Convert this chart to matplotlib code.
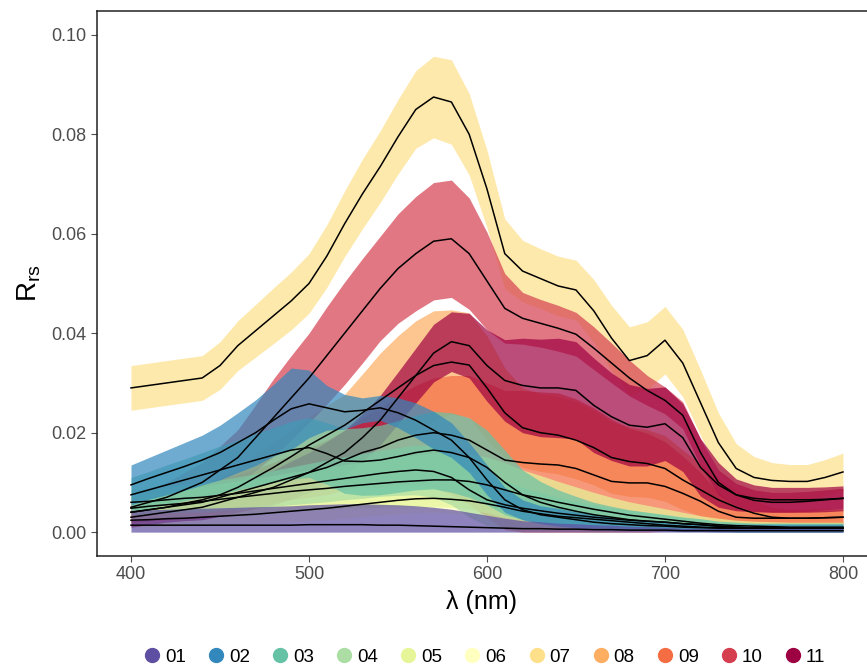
import numpy as np
import matplotlib
matplotlib.use("Agg")
import matplotlib.pyplot as plt
from matplotlib.lines import Line2D

plt.rcParams['font.family'] = ['Liberation Sans', 'DejaVu Sans']

# wavelengths, every 10 nm
wl = list(range(400, 801, 10))

classes = ['01', '02', '03', '04', '05', '06', '07', '08', '09', '10', '11']
colors = ['#5E4FA2', '#3288BD', '#66C2A5', '#ABDDA4', '#E6F598', '#FFFFBF',
          '#FEE08B', '#FDAE61', '#F46D43', '#D53E4F', '#9E0142']

# mean and sd of Rrs for each class (rows: 400-490, 500-590, 600-690, 700-790, 800)
mean01 = [0.0014, 0.0014, 0.0014, 0.0014, 0.0014, 0.0014, 0.0014, 0.0014, 0.0014, 0.0014,
          0.0015, 0.0015, 0.0015, 0.0015, 0.0014, 0.0014, 0.0013, 0.0012, 0.0011, 0.0010,
          0.0009, 0.0008, 0.0007, 0.0007, 0.0006, 0.0006, 0.0005, 0.0005, 0.0004, 0.0004,
          0.0004, 0.0003, 0.0003, 0.0003, 0.0003, 0.0003, 0.0003, 0.0003, 0.0003, 0.0003,
          0.0003]
sd01 = [0.0030, 0.0031, 0.0032, 0.0033, 0.0034, 0.0035, 0.0036, 0.0037, 0.0038, 0.0039,
        0.0040, 0.0041, 0.0042, 0.0042, 0.0042, 0.0041, 0.0040, 0.0038, 0.0035, 0.0030,
        0.0025, 0.0020, 0.0016, 0.0014, 0.0012, 0.0011, 0.0010, 0.0009, 0.0008, 0.0007,
        0.0006, 0.0005, 0.0005, 0.0005, 0.0005, 0.0005, 0.0005, 0.0005, 0.0005, 0.0005,
        0.0005]

mean02 = [0.0095, 0.0108, 0.0120, 0.0132, 0.0145, 0.0160, 0.0180, 0.0200, 0.0225, 0.0248,
          0.0258, 0.0250, 0.0242, 0.0245, 0.0250, 0.0240, 0.0225, 0.0205, 0.0185, 0.0150,
          0.0105, 0.0065, 0.0045, 0.0035, 0.0030, 0.0025, 0.0020, 0.0017, 0.0015, 0.0013,
          0.0012, 0.0010, 0.0009, 0.0008, 0.0008, 0.0008, 0.0008, 0.0008, 0.0008, 0.0008,
          0.0008]
sd02 = [0.0040, 0.0042, 0.0045, 0.0048, 0.0050, 0.0055, 0.0060, 0.0066, 0.0072, 0.0082,
        0.0068, 0.0045, 0.0035, 0.0025, 0.0025, 0.0030, 0.0035, 0.0038, 0.0035, 0.0030,
        0.0030, 0.0025, 0.0020, 0.0018, 0.0018, 0.0016, 0.0015, 0.0013, 0.0012, 0.0010,
        0.0010, 0.0009, 0.0008, 0.0008, 0.0008, 0.0008, 0.0008, 0.0008, 0.0008, 0.0008,
        0.0008]

mean03 = [0.0075, 0.0085, 0.0095, 0.0105, 0.0115, 0.0125, 0.0135, 0.0145, 0.0155, 0.0165,
          0.0170, 0.0158, 0.0143, 0.0142, 0.0145, 0.0152, 0.0160, 0.0165, 0.0160, 0.0150,
          0.0130, 0.0100, 0.0075, 0.0060, 0.0050, 0.0042, 0.0035, 0.0030, 0.0025, 0.0022,
          0.0020, 0.0017, 0.0015, 0.0012, 0.0010, 0.0008, 0.0008, 0.0008, 0.0008, 0.0008,
          0.0008]
sd03 = [0.0035, 0.0037, 0.0040, 0.0042, 0.0045, 0.0048, 0.0050, 0.0053, 0.0055, 0.0058,
        0.0060, 0.0062, 0.0065, 0.0068, 0.0070, 0.0072, 0.0075, 0.0078, 0.0080, 0.0080,
        0.0075, 0.0065, 0.0050, 0.0042, 0.0035, 0.0030, 0.0025, 0.0022, 0.0020, 0.0018,
        0.0015, 0.0013, 0.0012, 0.0010, 0.0010, 0.0010, 0.0010, 0.0010, 0.0010, 0.0010,
        0.0010]

mean04 = [0.0060, 0.0062, 0.0065, 0.0068, 0.0070, 0.0074, 0.0078, 0.0083, 0.0088, 0.0093,
          0.0098, 0.0103, 0.0108, 0.0113, 0.0118, 0.0122, 0.0125, 0.0122, 0.0110, 0.0085,
          0.0065, 0.0055, 0.0048, 0.0043, 0.0038, 0.0034, 0.0030, 0.0027, 0.0024, 0.0022,
          0.0020, 0.0017, 0.0015, 0.0012, 0.0010, 0.0008, 0.0008, 0.0008, 0.0008, 0.0008,
          0.0008]
sd04 = [0.0025, 0.0026, 0.0027, 0.0028, 0.0030, 0.0031, 0.0033, 0.0034, 0.0036, 0.0038,
        0.0040, 0.0042, 0.0043, 0.0045, 0.0046, 0.0048, 0.0050, 0.0052, 0.0055, 0.0055,
        0.0052, 0.0048, 0.0042, 0.0037, 0.0032, 0.0028, 0.0025, 0.0022, 0.0020, 0.0018,
        0.0016, 0.0014, 0.0012, 0.0010, 0.0010, 0.0010, 0.0010, 0.0010, 0.0010, 0.0010,
        0.0010]

mean05 = [0.0048, 0.0052, 0.0055, 0.0058, 0.0062, 0.0066, 0.0070, 0.0074, 0.0078, 0.0082,
          0.0085, 0.0088, 0.0092, 0.0095, 0.0098, 0.0101, 0.0103, 0.0105, 0.0105, 0.0102,
          0.0095, 0.0085, 0.0075, 0.0068, 0.0060, 0.0053, 0.0046, 0.0040, 0.0034, 0.0030,
          0.0026, 0.0022, 0.0018, 0.0015, 0.0013, 0.0012, 0.0011, 0.0010, 0.0010, 0.0010,
          0.0010]
sd05 = [0.0025, 0.0026, 0.0027, 0.0029, 0.0030, 0.0032, 0.0033, 0.0035, 0.0036, 0.0038,
        0.0040, 0.0042, 0.0044, 0.0046, 0.0048, 0.0050, 0.0052, 0.0054, 0.0055, 0.0056,
        0.0056, 0.0055, 0.0050, 0.0046, 0.0042, 0.0038, 0.0034, 0.0030, 0.0027, 0.0024,
        0.0021, 0.0018, 0.0015, 0.0013, 0.0011, 0.0010, 0.0010, 0.0010, 0.0010, 0.0010,
        0.0010]

mean06 = [0.0024, 0.0025, 0.0027, 0.0028, 0.0030, 0.0032, 0.0034, 0.0036, 0.0039, 0.0042,
          0.0045, 0.0048, 0.0052, 0.0056, 0.0060, 0.0064, 0.0067, 0.0068, 0.0066, 0.0063,
          0.0057, 0.0050, 0.0042, 0.0037, 0.0032, 0.0029, 0.0026, 0.0023, 0.0020, 0.0017,
          0.0014, 0.0012, 0.0010, 0.0009, 0.0008, 0.0008, 0.0008, 0.0008, 0.0008, 0.0008,
          0.0008]
sd06 = [0.0015, 0.0015, 0.0016, 0.0016, 0.0017, 0.0018, 0.0018, 0.0019, 0.0020, 0.0021,
        0.0022, 0.0023, 0.0024, 0.0025, 0.0026, 0.0027, 0.0028, 0.0028, 0.0028, 0.0028,
        0.0026, 0.0024, 0.0022, 0.0020, 0.0018, 0.0016, 0.0015, 0.0014, 0.0013, 0.0012,
        0.0011, 0.0010, 0.0009, 0.0008, 0.0008, 0.0008, 0.0008, 0.0008, 0.0008, 0.0008,
        0.0008]

mean07 = [0.0290, 0.0295, 0.0300, 0.0305, 0.0310, 0.0335, 0.0375, 0.0405, 0.0435, 0.0465,
          0.0500, 0.0555, 0.0620, 0.0680, 0.0735, 0.0795, 0.0850, 0.0875, 0.0865, 0.0800,
          0.0690, 0.0560, 0.0525, 0.0510, 0.0495, 0.0487, 0.0445, 0.0390, 0.0345, 0.0355,
          0.0386, 0.0340, 0.0260, 0.0180, 0.0128, 0.0110, 0.0104, 0.0102, 0.0102, 0.0110,
          0.0121]
sd07 = [0.0045, 0.0045, 0.0045, 0.0045, 0.0045, 0.0048, 0.0050, 0.0053, 0.0056, 0.0058,
        0.0060, 0.0063, 0.0066, 0.0070, 0.0072, 0.0075, 0.0078, 0.0082, 0.0085, 0.0082,
        0.0078, 0.0070, 0.0062, 0.0060, 0.0060, 0.0060, 0.0063, 0.0066, 0.0068, 0.0068,
        0.0068, 0.0068, 0.0066, 0.0060, 0.0050, 0.0042, 0.0036, 0.0034, 0.0034, 0.0036,
        0.0038]

mean08 = [0.0040, 0.0045, 0.0050, 0.0058, 0.0065, 0.0075, 0.0090, 0.0110, 0.0130, 0.0152,
          0.0175, 0.0195, 0.0215, 0.0240, 0.0265, 0.0290, 0.0315, 0.0335, 0.0342, 0.0336,
          0.0290, 0.0240, 0.0210, 0.0200, 0.0195, 0.0185, 0.0170, 0.0150, 0.0142, 0.0138,
          0.0128, 0.0105, 0.0085, 0.0065, 0.0050, 0.0038, 0.0030, 0.0028, 0.0028, 0.0029,
          0.0030]
sd08 = [0.0020, 0.0022, 0.0025, 0.0028, 0.0030, 0.0035, 0.0040, 0.0045, 0.0050, 0.0054,
        0.0057, 0.0060, 0.0062, 0.0078, 0.0095, 0.0105, 0.0110, 0.0110, 0.0105, 0.0105,
        0.0105, 0.0090, 0.0080, 0.0078, 0.0078, 0.0078, 0.0075, 0.0072, 0.0070, 0.0068,
        0.0066, 0.0060, 0.0052, 0.0044, 0.0035, 0.0026, 0.0020, 0.0018, 0.0018, 0.0018,
        0.0018]

mean09 = [0.0040, 0.0045, 0.0050, 0.0055, 0.0060, 0.0070, 0.0080, 0.0090, 0.0100, 0.0110,
          0.0120, 0.0130, 0.0145, 0.0160, 0.0170, 0.0185, 0.0195, 0.0200, 0.0195, 0.0185,
          0.0165, 0.0145, 0.0140, 0.0137, 0.0135, 0.0128, 0.0115, 0.0102, 0.0099, 0.0099,
          0.0092, 0.0078, 0.0062, 0.0042, 0.0030, 0.0028, 0.0028, 0.0028, 0.0028, 0.0029,
          0.0030]
sd09 = [0.0020, 0.0022, 0.0025, 0.0028, 0.0030, 0.0033, 0.0035, 0.0038, 0.0040, 0.0045,
        0.0050, 0.0055, 0.0060, 0.0070, 0.0080, 0.0090, 0.0100, 0.0110, 0.0120, 0.0130,
        0.0135, 0.0140, 0.0145, 0.0145, 0.0145, 0.0140, 0.0135, 0.0125, 0.0110, 0.0100,
        0.0090, 0.0075, 0.0058, 0.0038, 0.0020, 0.0016, 0.0015, 0.0015, 0.0015, 0.0015,
        0.0015]

mean10 = [0.0050, 0.0060, 0.0070, 0.0085, 0.0100, 0.0125, 0.0150, 0.0190, 0.0230, 0.0270,
          0.0310, 0.0355, 0.0400, 0.0445, 0.0490, 0.0530, 0.0560, 0.0585, 0.0590, 0.0560,
          0.0505, 0.0450, 0.0430, 0.0420, 0.0410, 0.0398, 0.0370, 0.0340, 0.0310, 0.0285,
          0.0265, 0.0235, 0.0160, 0.0100, 0.0075, 0.0064, 0.0060, 0.0060, 0.0062, 0.0065,
          0.0068]
sd10 = [0.0020, 0.0025, 0.0030, 0.0035, 0.0040, 0.0048, 0.0056, 0.0066, 0.0078, 0.0085,
        0.0090, 0.0098, 0.0103, 0.0105, 0.0105, 0.0110, 0.0115, 0.0118, 0.0118, 0.0112,
        0.0098, 0.0070, 0.0052, 0.0048, 0.0046, 0.0044, 0.0043, 0.0040, 0.0036, 0.0030,
        0.0027, 0.0027, 0.0027, 0.0025, 0.0023, 0.0021, 0.0020, 0.0020, 0.0020, 0.0020,
        0.0020]

mean11 = [0.0030, 0.0035, 0.0040, 0.0045, 0.0050, 0.0060, 0.0070, 0.0080, 0.0090, 0.0105,
          0.0120, 0.0140, 0.0160, 0.0190, 0.0225, 0.0270, 0.0315, 0.0360, 0.0383, 0.0375,
          0.0335, 0.0305, 0.0295, 0.0290, 0.0290, 0.0285, 0.0255, 0.0232, 0.0215, 0.0211,
          0.0218, 0.0190, 0.0130, 0.0095, 0.0075, 0.0068, 0.0065, 0.0065, 0.0065, 0.0066,
          0.0068]
sd11 = [0.0020, 0.0020, 0.0020, 0.0022, 0.0025, 0.0028, 0.0030, 0.0032, 0.0035, 0.0038,
        0.0040, 0.0042, 0.0045, 0.0048, 0.0050, 0.0052, 0.0055, 0.0058, 0.0060, 0.0065,
        0.0072, 0.0082, 0.0095, 0.0098, 0.0100, 0.0098, 0.0095, 0.0088, 0.0082, 0.0078,
        0.0074, 0.0068, 0.0058, 0.0045, 0.0032, 0.0027, 0.0025, 0.0025, 0.0025, 0.0025,
        0.0025]

means = [mean01, mean02, mean03, mean04, mean05, mean06, mean07, mean08, mean09, mean10, mean11]
sds = [sd01, sd02, sd03, sd04, sd05, sd06, sd07, sd08, sd09, sd10, sd11]

# drawing order (index into classes)
order = [5, 6, 7, 8, 9, 10, 4, 3, 2, 1, 0]

fig = plt.figure(figsize=(8.67, 6.71), dpi=100)
ax = fig.add_axes([97 / 867, 115 / 671, 770 / 867, 545 / 671])

x = np.array(wl)
for i in order:
    m = np.array(means[i])
    s = np.array(sds[i])
    lo = np.clip(m - s, 0, None)
    ax.fill_between(x, lo, m + s, color=colors[i], alpha=0.7, linewidth=0)
    ax.plot(x, m, color='black', lw=1.1)

ax.set_xlim(380.9, 813.5)
ax.set_ylim(-0.0048, 0.1048)
ax.set_xticks([400, 500, 600, 700, 800])
ax.set_yticks([0.00, 0.02, 0.04, 0.06, 0.08, 0.10])
ax.set_yticklabels(['0.00', '0.02', '0.04', '0.06', '0.08', '0.10'])
ax.tick_params(labelsize=13, colors='#4D4D4D', length=4, width=0.8)
for sp in ['left', 'bottom', 'top']:
    ax.spines[sp].set_linewidth(1.1)
    ax.spines[sp].set_color('#222222')
ax.spines['right'].set_visible(False)

ax.set_xlabel('λ (nm)', fontsize=18, labelpad=5)
ax.set_ylabel('R$_{\\mathregular{rs}}$', fontsize=20, labelpad=6)

handles = [Line2D([], [], marker='o', ls='', color=c, markersize=10) for c in colors]
fig.legend(handles, classes, loc='center', bbox_to_anchor=(484 / 867, 14 / 671), ncol=11,
           frameon=False, fontsize=13.5, handletextpad=0.2, columnspacing=1.1, handlelength=1.0)

fig.savefig('out.png', dpi=100)
